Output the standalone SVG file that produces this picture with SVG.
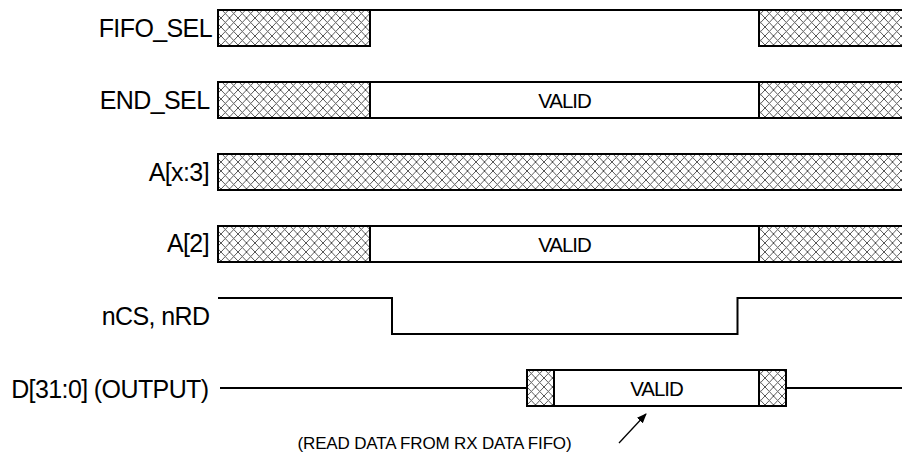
<svg xmlns="http://www.w3.org/2000/svg" width="902" height="452" viewBox="0 0 902 452">
<defs>
<pattern id="hatch" patternUnits="userSpaceOnUse" width="8.5" height="9">
<rect width="8.5" height="9" fill="#fff"/>
<path d="M0,0 L8.5,9 M8.5,0 L0,9" stroke="#444" stroke-width="0.9" fill="none"/>
</pattern>
<marker id="arr" markerWidth="10" markerHeight="10" refX="9" refY="5" orient="auto" markerUnits="userSpaceOnUse">
<path d="M0,1 L10,5 L0,9 Z" fill="#000"/>
</marker>
</defs>
<style>
.lbl{font-family:"Liberation Sans",Arial,sans-serif;font-size:25px;letter-spacing:-0.6px;fill:#000;text-anchor:end}
.val{font-family:"Liberation Sans",Arial,sans-serif;font-size:20.5px;letter-spacing:-1px;fill:#000;text-anchor:middle}
.note{font-family:"Liberation Sans",Arial,sans-serif;font-size:17px;letter-spacing:-0.15px;fill:#000}
.hx{fill:url(#hatch);stroke:#000;stroke-width:2}
.bx{fill:#fff;stroke:#000;stroke-width:2}
.ln{fill:none;stroke:#000;stroke-width:2}
</style>
<g id="fifo_sel">
<text class="lbl" x="212" y="37">FIFO_SEL</text>
<rect class="hx" x="218" y="10" width="152" height="36"/>
<path class="ln" d="M370,46 V10 H759 V46"/>
<rect class="hx" x="759" y="10" width="150" height="36"/>
</g>
<g id="end_sel">
<text class="lbl" x="209.5" y="108.5">END_SEL</text>
<rect class="hx" x="218" y="82" width="152" height="36"/>
<rect class="bx" x="370" y="82" width="389" height="36"/>
<text class="val" x="564.5" y="107.5">VALID</text>
<rect class="hx" x="759" y="82" width="150" height="36"/>
</g>
<g id="a_x3">
<text class="lbl" x="209" y="180.5">A[x:3]</text>
<rect class="hx" x="218" y="154" width="691" height="36"/>
</g>
<g id="a2">
<text class="lbl" x="209" y="252">A[2]</text>
<rect class="hx" x="218" y="226" width="152" height="36"/>
<rect class="bx" x="370" y="226" width="389" height="36"/>
<text class="val" x="564.5" y="251.5">VALID</text>
<rect class="hx" x="759" y="226" width="150" height="36"/>
</g>
<g id="ncs_nrd">
<text class="lbl" x="209.5" y="325">nCS, nRD</text>
<path class="ln" d="M218,298 H392 V334 H737.5 V298 H905"/>
</g>
<g id="d_out">
<text class="lbl" x="208.5" y="397.5">D[31:0] (OUTPUT)</text>
<path class="ln" d="M220,388 H527"/>
<rect class="hx" x="527" y="370" width="27" height="36"/>
<rect class="bx" x="554" y="370" width="205" height="36"/>
<text class="val" x="656.5" y="395.5">VALID</text>
<rect class="hx" x="759" y="370" width="27" height="36"/>
<path class="ln" d="M786,388 H905"/>
</g>
<g id="connectors">
<line x1="619" y1="443" x2="646" y2="414" stroke="#000" stroke-width="1.3" marker-end="url(#arr)"/>
</g>
<text class="note" x="297.5" y="449">(READ DATA FROM RX DATA FIFO)</text>
</svg>
